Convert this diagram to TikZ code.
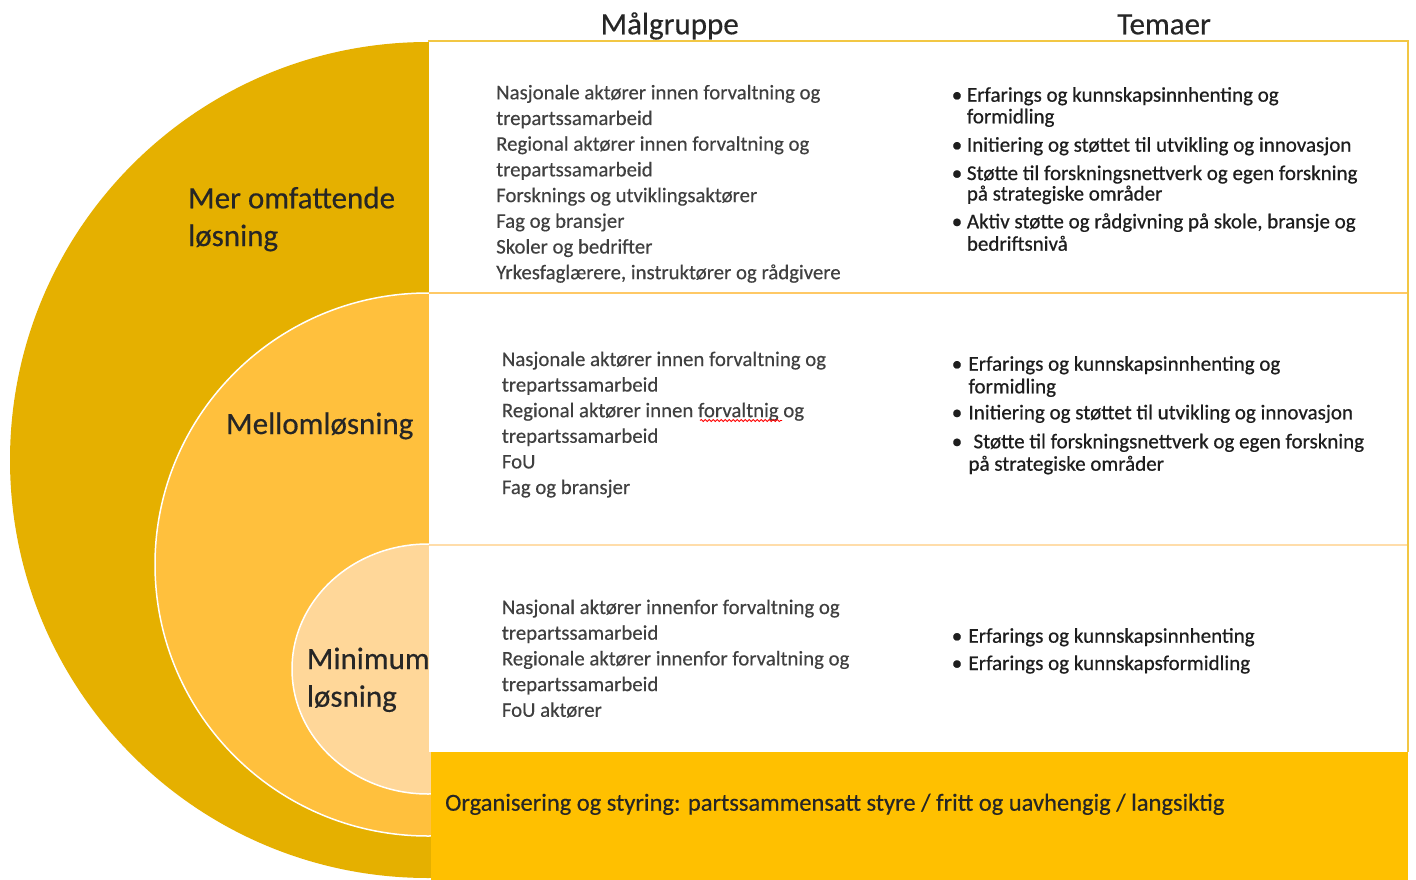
\documentclass[tikz,border=0pt]{standalone}
\usepackage{fontspec}
\setmainfont{Carlito}
\newfontfamily\lstfont[FakeBold=0.35]{Carlito}
\newfontfamily\temfont[FakeBold=0.6]{Carlito}
\newfontfamily\labfont[FakeBold=0.4]{Carlito}
\usetikzlibrary{decorations.pathmorphing}
\definecolor{outerc}{HTML}{E5B000}
\definecolor{midc}{HTML}{FFC03D}
\definecolor{innc}{HTML}{FFD799}
\definecolor{barc}{HTML}{FFC000}
\definecolor{bordc}{HTML}{F2C744}
\definecolor{sepa}{HTML}{FFC966}
\definecolor{sepb}{HTML}{FFDDAA}
\definecolor{lstc}{HTML}{404040}
\definecolor{temc}{HTML}{1E1E1E}
\definecolor{labc}{HTML}{262626}
\tikzset{
  lst/.style={anchor=base west, inner sep=0pt, text=lstc, font=\lstfont\fontsize{20.8}{24}\selectfont},
  tem/.style={anchor=base west, inner sep=0pt, text=temc, font=\temfont\fontsize{21}{24}\selectfont},
  bul/.style={anchor=base, inner sep=0pt, text=temc, font=\temfont\fontsize{21}{24}\selectfont},
  lab/.style={anchor=base west, inner sep=0pt, text=labc, font=\labfont\fontsize{31}{36}\selectfont},
  hdr/.style={anchor=base, inner sep=0pt, text=labc, font=\labfont\fontsize{31}{36}\selectfont},
  bot/.style={anchor=base west, inner sep=0pt, text=labc, font=\labfont\fontsize{24.5}{28}\selectfont},
}
\begin{document}
\begin{tikzpicture}[x=1pt,y=-1pt]
\useasboundingbox (0,0) rectangle (1416,880);
\fill[white] (0,0) rectangle (1416,880);
% nested half circles
\begin{scope}
  \clip (0,0) rectangle (431,880);
  \fill[outerc] (428,460) ellipse [x radius=418, y radius=418];
  \filldraw[fill=midc, draw=white, line width=1.5pt] (428,564.5) ellipse [x radius=273, y radius=271.5];
  \filldraw[fill=innc, draw=white, line width=1.5pt] (428,669) ellipse [x radius=136, y radius=125];
\end{scope}
% circle labels
\node[lab] (mer1) at (188,208.3) {Mer omfattende};
\node[lab] (mer2) at (188,246) {løsning};
\node[lab] (mello) at (226,434) {Mellomløsning};
\node[lab] (min1) at (306.7,669) {Minimum};
\node[lab] (min2) at (306.7,706.7) {løsning};
% table
\fill[white] (429,41) rectangle (1408,752);
\draw[sepa, line width=1.5pt] (429,293) -- (1408,293);
\draw[sepb, line width=1.5pt] (429,545) -- (1408,545);
\draw[bordc, line width=2pt] (428,41.5) -- (1407.5,41.5) -- (1407.5,752);
\fill[barc] (431,752) rectangle (1408,880);
% headers
\node[hdr] (malg) at (669.7,34.3) {Målgruppe};
\node[hdr] (tema) at (1164,34.3) {Temaer};
% Maalgruppe lists
\foreach \t [count=\i] in {{Nasjonale aktører innen forvaltning og},{trepartssamarbeid},{Regional aktører innen forvaltning og},{trepartssamarbeid},{Forsknings og utviklingsaktører},{Fag og bransjer},{Skoler og bedrifter},{Yrkesfaglærere, instruktører og rådgivere}}
  \node[lst] (ma\i) at (496,{99.3+25.7*(\i-1)}) {\t};
\foreach \t [count=\i] in {{Nasjonale aktører innen forvaltning og},{trepartssamarbeid},{Regional aktører innen forvaltnig og},{trepartssamarbeid},{FoU},{Fag og bransjer}}
  \node[lst] (mb\i) at (501.7,{366+25.6*(\i-1)}) {\t};
\foreach \t [count=\i] in {{Nasjonal aktører innenfor forvaltning og},{trepartssamarbeid},{Regionale aktører innenfor forvaltning og},{trepartssamarbeid},{FoU aktører}}
  \node[lst] (mc\i) at (501.7,{614+25.7*(\i-1)}) {\t};
\draw[red, line width=0.8pt, decorate, decoration={snake, amplitude=1.1pt, segment length=4pt}] (700,420.5) -- (782,420.5);
% Temaer row 1
\node[bul] (ba1) at (957,101.7) {•};
\node[tem] (ta1) at (966.7,101.7) {Erfarings og kunnskapsinnhenting og};
\node[tem] (ta2) at (966.7,123.3) {formidling};
\node[bul] (ba2) at (957,151.7) {•};
\node[tem] (ta3) at (966.7,151.7) {Initiering og støttet til utvikling og innovasjon};
\node[bul] (ba3) at (957,180) {•};
\node[tem] (ta4) at (966.7,180) {Støtte til forskningsnettverk og egen forskning};
\node[tem] (ta5) at (966.7,200.5) {på strategiske områder};
\node[bul] (ba4) at (957,228.3) {•};
\node[tem] (ta6) at (966.7,228.3) {Aktiv støtte og rådgivning på skole, bransje og};
\node[tem] (ta7) at (966.7,250.7) {bedriftsnivå};
% Temaer row 2
\node[bul] (bb1) at (957,370.7) {•};
\node[tem] (tb1) at (968.3,370.7) {Erfarings og kunnskapsinnhenting og};
\node[tem] (tb2) at (968.3,393.3) {formidling};
\node[bul] (bb2) at (957,419.3) {•};
\node[tem] (tb3) at (968.3,419.3) {Initiering og støttet til utvikling og innovasjon};
\node[bul] (bb3) at (957,448.3) {•};
\node[tem] (tb4) at (973.3,448.3) {Støtte til forskningsnettverk og egen forskning};
\node[tem] (tb5) at (968.3,470.7) {på strategiske områder};
% Temaer row 3
\node[bul] (bc1) at (957,642.7) {•};
\node[tem] (tc1) at (968.3,642.7) {Erfarings og kunnskapsinnhenting};
\node[bul] (bc2) at (957,670) {•};
\node[tem] (tc2) at (968.3,670) {Erfarings og kunnskapsformidling};
% bottom bar text
\node[bot] (org) at (445,810.7) {Organisering og styring: partssammensatt styre / fritt og uavhengig / langsiktig};
\end{tikzpicture}
\end{document}
